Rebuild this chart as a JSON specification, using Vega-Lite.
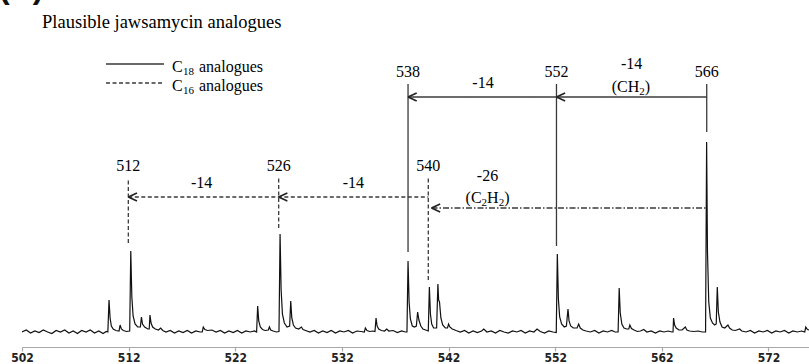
{
  "$schema": "https://vega.github.io/schema/vega-lite/v6.json",
  "width": 787,
  "height": 347,
  "autosize": {"type": "none"},
  "padding": {"left": 22, "top": 0, "right": 0, "bottom": 17},
  "background": "white",
  "config": {
    "view": {"stroke": null},
    "axisX": {
      "domainColor": "#a8a8a8", "domainWidth": 1.2, "tickColor": "#a8a8a8", "tickSize": 4, "tickWidth": 1.2,
      "labelFont": "Liberation Sans Narrow, DejaVu Sans Condensed, sans-serif", "labelFontSize": 12, "labelFontWeight": "bold",
      "labelColor": "#222", "labelPadding": 1, "grid": false, "labelFlush": false
    }
  },
  "datasets": {
    "spectrum": [
      {"m":502.0,"i":0},{"m":502.4,"i":2},{"m":502.8,"i":-1},{"m":503.2,"i":1},{"m":503.6,"i":-0.5},{"m":504.0,"i":2},{"m":504.4,"i":0},{"m":504.8,"i":-1.5},{"m":505.2,"i":1.5},{"m":505.6,"i":0},{"m":506.0,"i":2},{"m":506.4,"i":-1},{"m":506.8,"i":1},{"m":507.2,"i":-1.5},{"m":507.6,"i":1.5},{"m":508.0,"i":0},{"m":508.4,"i":2},{"m":508.8,"i":-1},{"m":509.2,"i":1},{"m":509.6,"i":-1.5},{"m":509.9,"i":0.5},
      {"m":510.05,"i":0},{"m":510.16,"i":32},{"m":510.26,"i":14},{"m":510.38,"i":6},{"m":510.55,"i":3},{"m":510.8,"i":1.5},
      {"m":511.1,"i":1},{"m":511.2,"i":7},{"m":511.32,"i":3},{"m":511.5,"i":1.5},{"m":511.8,"i":0.5},{"m":512.1,"i":1},
      {"m":512.2,"i":81},{"m":512.3,"i":35},{"m":512.42,"i":16},{"m":512.6,"i":8},{"m":512.85,"i":5},{"m":513.1,"i":5},
      {"m":513.2,"i":15},{"m":513.3,"i":8},{"m":513.5,"i":5},{"m":513.8,"i":3},{"m":513.93,"i":3},{"m":514.0,"i":17},{"m":514.1,"i":9},{"m":514.25,"i":5},{"m":514.5,"i":3},{"m":514.8,"i":2},{"m":515.0,"i":4},{"m":515.2,"i":1.5},
      {"m":515.5,"i":0},{"m":515.9,"i":1.5},{"m":516.3,"i":-1},{"m":516.7,"i":1},{"m":517.1,"i":-0.5},{"m":517.5,"i":1.5},{"m":517.9,"i":-1},{"m":518.3,"i":1},{"m":518.7,"i":0},
      {"m":518.9,"i":0},{"m":519.0,"i":5},{"m":519.15,"i":2.5},{"m":519.4,"i":1.5},
      {"m":519.8,"i":2},{"m":520.2,"i":0},{"m":520.6,"i":1.5},{"m":521.0,"i":-1},{"m":521.4,"i":1},{"m":521.8,"i":-0.5},{"m":522.2,"i":1.5},{"m":522.6,"i":-1},{"m":523.0,"i":1},{"m":523.4,"i":0},{"m":523.8,"i":1},
      {"m":524.0,"i":0},{"m":524.1,"i":26},{"m":524.2,"i":11},{"m":524.35,"i":5},{"m":524.55,"i":2.5},{"m":524.8,"i":1.5},{"m":525.1,"i":2},{"m":525.2,"i":5},{"m":525.32,"i":2},{"m":525.55,"i":1},{"m":525.85,"i":0},{"m":526.1,"i":0.5},
      {"m":526.2,"i":98},{"m":526.3,"i":42},{"m":526.42,"i":18},{"m":526.6,"i":9},{"m":526.85,"i":5},{"m":527.1,"i":6},{"m":527.2,"i":31},{"m":527.3,"i":14},{"m":527.45,"i":7},{"m":527.65,"i":4},{"m":527.95,"i":3},{"m":528.2,"i":5},{"m":528.35,"i":2.5},{"m":528.6,"i":1.5},
      {"m":529.0,"i":0},{"m":529.4,"i":1.5},{"m":529.8,"i":-1},{"m":530.2,"i":1},{"m":530.6,"i":-0.5},{"m":531.0,"i":1.5},{"m":531.4,"i":-1},{"m":531.8,"i":1},{"m":532.2,"i":0},{"m":532.6,"i":1.5},{"m":533.0,"i":-1},{"m":533.4,"i":1},{"m":533.8,"i":0.5},
      {"m":534.1,"i":0},{"m":534.2,"i":4},{"m":534.35,"i":1.5},{"m":534.6,"i":0.5},{"m":534.9,"i":1},
      {"m":535.1,"i":0.5},{"m":535.2,"i":14},{"m":535.3,"i":6},{"m":535.45,"i":3},{"m":535.7,"i":1.5},{"m":536.0,"i":1},{"m":536.2,"i":3},{"m":536.4,"i":1},{"m":536.8,"i":1.5},{"m":537.2,"i":-0.5},{"m":537.6,"i":1},{"m":537.95,"i":0},{"m":538.1,"i":0},
      {"m":538.2,"i":71},{"m":538.3,"i":30},{"m":538.42,"i":13},{"m":538.6,"i":6},{"m":538.8,"i":5},{"m":538.98,"i":6},{"m":539.1,"i":20},{"m":539.22,"i":12},{"m":539.4,"i":6},{"m":539.6,"i":3},{"m":539.85,"i":2},{"m":540.1,"i":1},
      {"m":540.2,"i":45},{"m":540.3,"i":18},{"m":540.42,"i":8},{"m":540.6,"i":4},{"m":540.88,"i":4},{"m":541.0,"i":48},{"m":541.07,"i":32},{"m":541.15,"i":30},{"m":541.28,"i":14},{"m":541.45,"i":7},{"m":541.7,"i":4},{"m":541.9,"i":4},{"m":542.0,"i":8},{"m":542.12,"i":5},{"m":542.35,"i":3},{"m":542.7,"i":1.5},
      {"m":543.1,"i":0},{"m":543.5,"i":1.5},{"m":543.9,"i":-1},{"m":544.3,"i":1},{"m":544.7,"i":-0.5},{"m":545.1,"i":1},{"m":545.3,"i":3},{"m":545.6,"i":0},{"m":546.0,"i":1},{"m":546.4,"i":-1},{"m":546.8,"i":1.5},{"m":547.2,"i":0},{"m":547.6,"i":-1},{"m":548.0,"i":1},{"m":548.4,"i":0},{"m":548.8,"i":1.5},{"m":549.2,"i":-1},{"m":549.6,"i":1},{"m":550.0,"i":0},{"m":550.3,"i":3},{"m":550.6,"i":0.5},{"m":551.0,"i":-1},{"m":551.4,"i":1},{"m":551.8,"i":0},{"m":552.1,"i":-0.5},
      {"m":552.2,"i":78},{"m":552.3,"i":33},{"m":552.42,"i":15},{"m":552.6,"i":8},{"m":552.85,"i":5},{"m":553.05,"i":6},{"m":553.2,"i":23},{"m":553.3,"i":11},{"m":553.45,"i":6},{"m":553.7,"i":4},{"m":554.05,"i":4},{"m":554.2,"i":8},{"m":554.35,"i":4},{"m":554.6,"i":2},{"m":554.9,"i":1},
      {"m":555.3,"i":0},{"m":555.7,"i":1.5},{"m":556.1,"i":-1},{"m":556.5,"i":1},{"m":556.9,"i":0},{"m":557.3,"i":1.5},{"m":557.6,"i":0},{"m":557.9,"i":0},
      {"m":558.0,"i":44},{"m":558.1,"i":19},{"m":558.25,"i":8},{"m":558.45,"i":4},{"m":558.7,"i":3},{"m":558.9,"i":3},{"m":559.0,"i":7},{"m":559.15,"i":3.5},{"m":559.4,"i":2},{"m":559.7,"i":0.5},{"m":560.0,"i":1},{"m":560.3,"i":2.5},{"m":560.6,"i":0},{"m":561.0,"i":1},{"m":561.4,"i":-1},{"m":561.8,"i":1},{"m":562.2,"i":0},{"m":562.6,"i":1},{"m":562.95,"i":0},
      {"m":563.05,"i":0},{"m":563.1,"i":14},{"m":563.2,"i":7},{"m":563.35,"i":4},{"m":563.6,"i":2},{"m":563.9,"i":2},{"m":564.2,"i":5},{"m":564.35,"i":2},{"m":564.6,"i":1},{"m":565.0,"i":0.5},{"m":565.4,"i":1},{"m":565.8,"i":0},{"m":566.1,"i":0},
      {"m":566.2,"i":190},{"m":566.28,"i":80},{"m":566.4,"i":30},{"m":566.55,"i":14},{"m":566.75,"i":9},{"m":566.95,"i":7},{"m":567.1,"i":8},{"m":567.2,"i":45},{"m":567.3,"i":20},{"m":567.45,"i":10},{"m":567.65,"i":5},{"m":567.9,"i":4},{"m":568.2,"i":7},{"m":568.35,"i":4},{"m":568.6,"i":2},{"m":568.9,"i":1.5},{"m":569.3,"i":3},{"m":569.5,"i":1},
      {"m":569.9,"i":0},{"m":570.3,"i":1.5},{"m":570.7,"i":-1},{"m":571.1,"i":1},{"m":571.5,"i":0},{"m":571.9,"i":1.5},{"m":572.3,"i":-1},{"m":572.7,"i":1},{"m":573.1,"i":0},{"m":573.5,"i":1.5},{"m":573.9,"i":-1},{"m":574.3,"i":1},{"m":574.7,"i":0},{"m":575.1,"i":1},{"m":575.4,"i":0},{"m":575.5,"i":5},{"m":575.65,"i":2.5},{"m":575.8,"i":2}
    ],
    "vrules": [
      {"x":538.20,"y":80,"y2":248,"g":"C18"},
      {"x":552.12,"y":86,"y2":248,"g":"C18"},
      {"x":566.21,"y":200,"y2":248,"g":"C18"},
      {"x":511.97,"y":89,"y2":154,"g":"C16"},
      {"x":526.07,"y":104,"y2":154,"g":"C16"},
      {"x":540.10,"y":52,"y2":154,"g":"C16"}
    ],
    "hrules": [
      {"x":538.20,"x2":566.21,"y":235,"g":"C18"},
      {"x":511.97,"x2":540.10,"y":135,"g":"C16"},
      {"x":540.4,"x2":566.21,"y":124,"g":"C2H2"},
      {"x":509.88,"x2":515.32,"y":268,"g":"C18"},
      {"x":509.88,"x2":515.32,"y":249,"g":"C16"}
    ],
    "heads": [
      {"x":538.20,"y":235},{"x":552.12,"y":235},{"x":511.97,"y":135},{"x":526.07,"y":135},{"x":540.4,"y":124}
    ],
    "labels": [
      {"x":538.20,"y":260,"t":"538"},{"x":552.12,"y":260,"t":"552"},{"x":566.21,"y":260,"t":"566"},
      {"x":545.23,"y":249,"t":"-14"},{"x":559.17,"y":268,"t":"-14"},
      {"x":511.97,"y":166,"t":"512"},{"x":526.07,"y":166,"t":"526"},{"x":540.10,"y":166,"t":"540"},
      {"x":518.85,"y":149,"t":"-14"},{"x":533.07,"y":149,"t":"-14"},
      {"x":545.65,"y":156,"t":"-26"}
    ],
    "mainText": [
      {"x":516.07,"y":265,"t":"C"},{"x":518.60,"y":265,"t":"analogues"},
      {"x":516.07,"y":246,"t":"C"},{"x":518.60,"y":246,"t":"analogues"},
      {"x":557.30,"y":245,"t":"(CH"},{"x":560.40,"y":245,"t":")"},
      {"x":543.60,"y":134,"t":"(C"},{"x":545.61,"y":134,"t":"H"},{"x":547.22,"y":134,"t":")"}
    ],
    "subText": [
      {"x":517.10,"y":265,"t":"18"},{"x":517.10,"y":246,"t":"16"},
      {"x":559.89,"y":245,"t":"2"},
      {"x":545.10,"y":134,"t":"2"},{"x":546.70,"y":134,"t":"2"}
    ],
    "titles": [
      {"x":503.88,"y":310,"t":"Plausible jawsamycin analogues"}
    ],
    "panel": [
      {"x":499.84,"y":334,"t":"(B)"}
    ]
  },
  "layer": [
    {
      "data": {"name": "spectrum"},
      "mark": {"type": "line", "color": "#111", "strokeWidth": 1.2, "clip": true},
      "encoding": {
        "x": {"field": "m", "type": "quantitative", "scale": {"domain": [502, 575.8], "nice": false, "zero": false}, "axis": {"values": [502,512,522,532,542,552,562,572], "title": null}},
        "y": {"field": "i", "type": "quantitative", "scale": {"domain": [-15, 332], "nice": false, "zero": false}, "axis": null}
      }
    },
    {
      "data": {"name": "vrules"},
      "mark": {"type": "rule", "color": "#3a3a3a", "strokeWidth": 1.3},
      "encoding": {
        "x": {"field": "x", "type": "quantitative", "title": null},
        "y": {"field": "y", "type": "quantitative", "axis": null},
        "y2": {"field": "y2"},
        "strokeDash": {"field": "g", "type": "nominal", "scale": {"domain": ["C18","C16","C2H2"], "range": [[1,0],[4,2.5],[6,2,1.5,2]]}, "legend": null}
      }
    },
    {
      "data": {"name": "hrules"},
      "mark": {"type": "rule", "color": "#3a3a3a", "strokeWidth": 1.3},
      "encoding": {
        "x": {"field": "x", "type": "quantitative", "title": null},
        "x2": {"field": "x2"},
        "y": {"field": "y", "type": "quantitative", "axis": null},
        "strokeDash": {"field": "g", "type": "nominal", "legend": null}
      }
    },
    {
      "data": {"name": "heads"},
      "mark": {"type": "point", "shape": "M0,0L1,-0.45M0,0L1,0.45", "size": 300, "filled": false, "stroke": "#222", "strokeWidth": 1.6, "opacity": 1},
      "encoding": {
        "x": {"field": "x", "type": "quantitative", "title": null},
        "y": {"field": "y", "type": "quantitative", "axis": null}
      }
    },
    {
      "data": {"name": "labels"},
      "mark": {"type": "text", "font": "'Liberation Serif', 'DejaVu Serif', serif", "fontSize": 16, "color": "#000", "align": "center", "baseline": "middle"},
      "encoding": {
        "x": {"field": "x", "type": "quantitative", "title": null},
        "y": {"field": "y", "type": "quantitative", "axis": null},
        "text": {"field": "t"}
      }
    },
    {
      "data": {"name": "mainText"},
      "mark": {"type": "text", "font": "'Liberation Serif', 'DejaVu Serif', serif", "fontSize": 16, "color": "#000", "align": "left", "baseline": "middle"},
      "encoding": {
        "x": {"field": "x", "type": "quantitative", "title": null},
        "y": {"field": "y", "type": "quantitative", "axis": null},
        "text": {"field": "t"}
      }
    },
    {
      "data": {"name": "subText"},
      "mark": {"type": "text", "font": "'Liberation Serif', 'DejaVu Serif', serif", "fontSize": 11, "color": "#000", "align": "left", "baseline": "middle", "dy": 5},
      "encoding": {
        "x": {"field": "x", "type": "quantitative", "title": null},
        "y": {"field": "y", "type": "quantitative", "axis": null},
        "text": {"field": "t"}
      }
    },
    {
      "data": {"name": "titles"},
      "mark": {"type": "text", "font": "'Liberation Serif', 'DejaVu Serif', serif", "fontSize": 18.5, "color": "#000", "align": "left", "baseline": "middle"},
      "encoding": {
        "x": {"field": "x", "type": "quantitative", "title": null},
        "y": {"field": "y", "type": "quantitative", "axis": null},
        "text": {"field": "t"}
      }
    },
    {
      "data": {"name": "panel"},
      "mark": {"type": "text", "font": "'Liberation Sans', sans-serif", "fontSize": 32, "fontWeight": "bold", "color": "#111", "align": "left", "baseline": "alphabetic"},
      "encoding": {
        "x": {"field": "x", "type": "quantitative", "title": null},
        "y": {"field": "y", "type": "quantitative", "axis": null},
        "text": {"field": "t"}
      }
    }
  ]
}
